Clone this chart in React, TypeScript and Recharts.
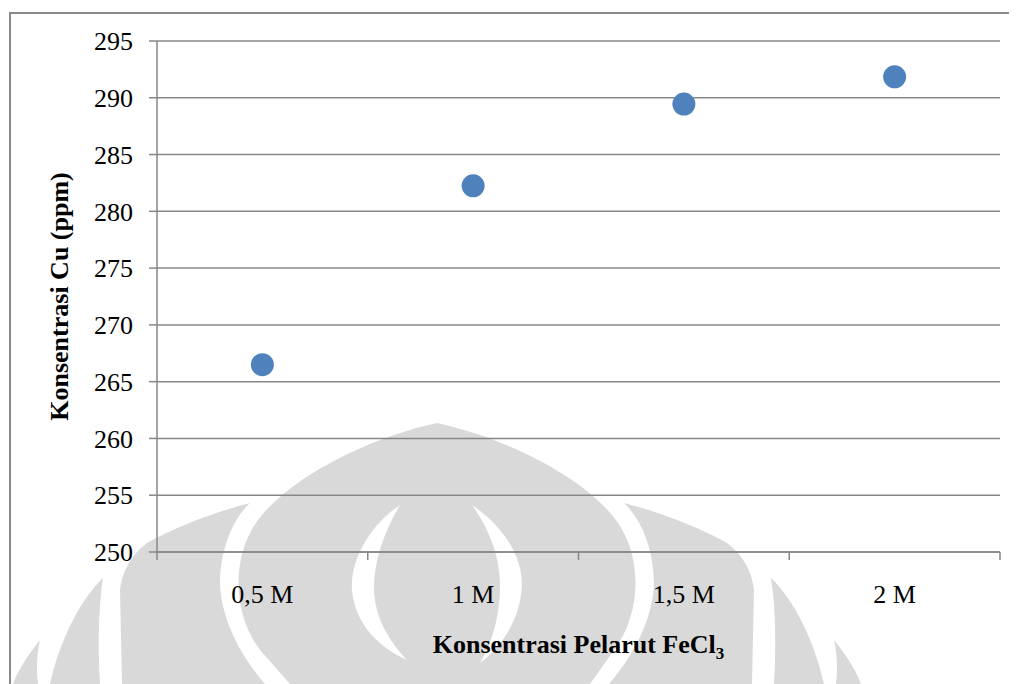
import React from 'react';
import {
  ScatterChart,
  Scatter,
  XAxis,
  YAxis,
  CartesianGrid,
  Label,
} from 'recharts';

// Solvent concentration categories and measured Cu concentration (ppm)
const categories = ['0,5 M', '1 M', '1,5 M', '2 M'];
const cuPpm = [266.5, 282.25, 289.45, 291.85];
const yTicks = [250, 255, 260, 265, 270, 275, 280, 285, 290, 295];
// category boundaries (integers) carry tick marks, centres (halves) carry labels
const xTicks = [0, 0.5, 1, 1.5, 2, 2.5, 3, 3.5, 4];

const points = categories.map((name, i) => ({ name, x: i + 0.5, y: cuPpm[i] }));

const W = 1017;
const H = 684;
const GRID = '#878787';
const MARKER = '#4F81BD';
const FONT = '"Liberation Serif", "Times New Roman", serif';
const WM = '#d9d9d9';

const XTick = (props: any) => {
  const { x, y, payload } = props;
  const v = payload.value as number;
  if (Number.isInteger(v)) {
    return <line x1={x} x2={x} y1={y} y2={y + 8} stroke={GRID} strokeWidth={1.5} />;
  }
  return (
    <text x={x} y={y + 51} textAnchor="middle" fontFamily={FONT} fontSize={26} fill="#000">
      {categories[Math.floor(v)]}
    </text>
  );
};

const YTitle = (props: any) => {
  const vb = props.viewBox;
  const cx = vb.x + 68;
  const cy = vb.y + vb.height / 2;
  return (
    <text
      x={cx}
      y={cy}
      transform={`rotate(-90, ${cx}, ${cy})`}
      textAnchor="middle"
      fontFamily={FONT}
      fontWeight="bold"
      fontSize={26}
      fill="#000"
    >
      Konsentrasi Cu (ppm)
    </text>
  );
};

const XTitle = (props: any) => {
  const vb = props.viewBox;
  const cx = vb.x + vb.width / 2;
  const by = vb.y + 101;
  return (
    <text x={cx} y={by} textAnchor="middle" fontFamily={FONT} fontWeight="bold" fontSize={26} fill="#000">
      Konsentrasi Pelarut FeCl
      <tspan dy={6} fontSize={17}>3</tspan>
    </text>
  );
};

const Dot = (props: any) => <circle cx={props.cx} cy={props.cy} r={11.5} fill={MARKER} />;

// Faint emblem printed behind the chart
const Emblem = () => {
  const side = (
    <g>
      <path d="M250,503 C215,512 175,527 147,543 C130,556 122,572 120,590 L122,684 L265,684 C240,655 222,620 220,585 C220,550 232,520 250,503 Z" />
      <path d="M103,578 C80,600 60,640 50,684 L100,684 C98,650 98,610 103,578 Z" />
      <path d="M40,640 C28,655 18,670 13,684 L38,684 C36,668 37,654 40,640 Z" />
    </g>
  );
  return (
    <svg width={W} height={H} style={{ position: 'absolute', left: 0, top: 0 }}>
      <g fill={WM}>
        <path d="M437,423 C380,435 300,470 262,515 C232,550 230,610 260,650 L290,684 L590,684 L614,650 C644,610 642,550 612,515 C574,470 494,435 437,423 Z" />
        {side}
        <g transform="translate(874,0) scale(-1,1)">{side}</g>
      </g>
      <g fill="#fff">
        <path d="M400,505 C370,525 350,560 352,590 C355,625 380,648 407,660 C388,640 374,615 374,588 C374,560 385,530 400,505 Z" />
        <path d="M472,505 C502,525 522,555 522,585 C520,622 500,648 480,663 C494,640 500,612 500,585 C500,558 490,530 472,505 Z" />
      </g>
    </svg>
  );
};

export default function App() {
  return (
    <div
      style={{
        position: 'relative',
        width: W,
        height: H,
        margin: '-8px 0 0 -8px',
        overflow: 'hidden',
        background: '#fff',
      }}
    >
      <Emblem />
      <div
        style={{
          position: 'absolute',
          left: 9,
          top: 12,
          width: 1100,
          height: 800,
          border: '2px solid #898989',
          boxSizing: 'border-box',
        }}
      />
      <div style={{ position: 'absolute', left: 0, top: 0 }}>
        <ScatterChart width={W} height={H} margin={{ top: 41, right: 17, bottom: 0, left: 0 }}>
          <CartesianGrid vertical={false} stroke={GRID} strokeWidth={1.5} />
          <XAxis
            type="number"
            dataKey="x"
            domain={[0, 4]}
            ticks={xTicks}
            interval={0}
            tickLine={false}
            tickSize={0}
            tickMargin={0}
            tick={<XTick />}
            axisLine={{ stroke: GRID, strokeWidth: 1.5 }}
            height={132}
          >
            <Label content={<XTitle />} />
          </XAxis>
          <YAxis
            type="number"
            dataKey="y"
            domain={[250, 295]}
            ticks={yTicks}
            interval={0}
            width={157}
            tickSize={8}
            tickMargin={16}
            tickLine={{ stroke: GRID, strokeWidth: 1.5 }}
            axisLine={{ stroke: GRID, strokeWidth: 1.5 }}
            tick={{ fontFamily: FONT, fontSize: 26, fill: '#000' }}
          >
            <Label content={<YTitle />} />
          </YAxis>
          <Scatter data={points} shape={<Dot />} isAnimationActive={false} />
        </ScatterChart>
      </div>
    </div>
  );
}
